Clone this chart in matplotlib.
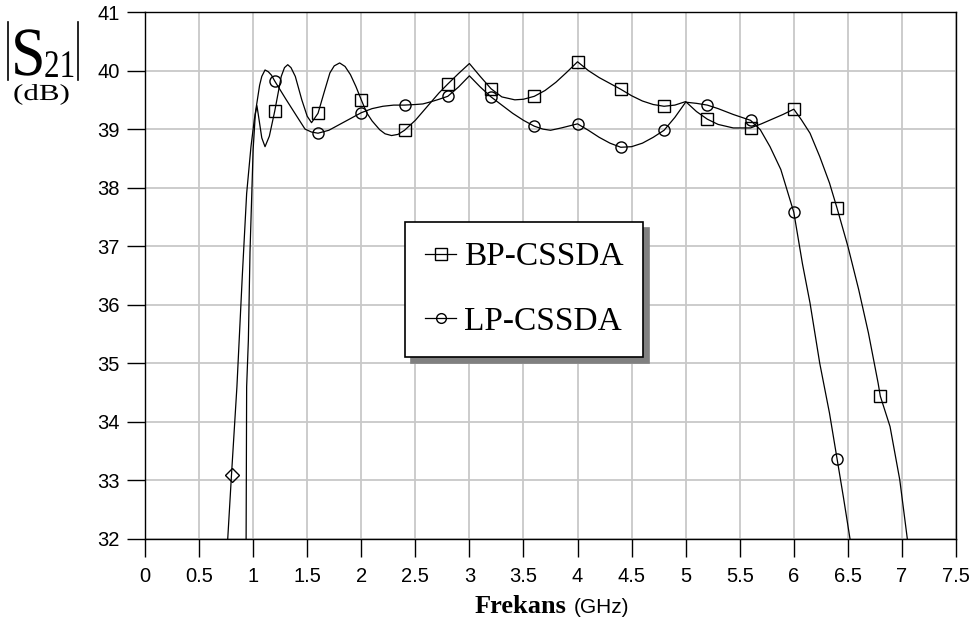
import matplotlib
matplotlib.use("Agg")
import matplotlib.pyplot as plt
from matplotlib.lines import Line2D
from matplotlib.textpath import TextPath
from matplotlib.patches import PathPatch
from matplotlib.font_manager import FontProperties
from matplotlib.transforms import Affine2D, IdentityTransform

# BP-CSSDA trace (GHz, dB)
bp_freq = [0.935, 0.94, 0.956, 0.971, 1.0, 1.02, 1.035, 1.05, 1.08, 1.11, 1.15, 1.2,
           1.26, 1.29, 1.32, 1.35, 1.39, 1.45, 1.5, 1.54, 1.6, 1.66, 1.71, 1.75, 1.8,
           1.85, 1.9, 1.95, 2.0, 2.05, 2.1, 2.17, 2.22, 2.28, 2.34, 2.4, 2.5, 2.64,
           2.72, 2.8, 2.9, 3.0, 3.1, 3.2, 3.3, 3.42, 3.5, 3.6, 3.7, 3.8, 3.9, 4.0,
           4.1, 4.2, 4.3, 4.4, 4.5, 4.6, 4.7, 4.8, 4.9, 5.0, 5.1, 5.2, 5.3, 5.44,
           5.6, 5.7, 5.8, 5.9, 6.0, 6.07, 6.15, 6.24, 6.33, 6.4, 6.5, 6.6, 6.69,
           6.78, 6.8, 6.89, 6.98, 7.05]
bp_db = [32.0, 34.6, 35.4, 36.9, 38.65, 39.25, 39.4, 39.22, 38.85, 38.7, 38.88, 39.31,
         39.9, 40.05, 40.1, 40.05, 39.9, 39.5, 39.22, 39.11, 39.27, 39.65, 39.96, 40.08, 40.13,
         40.07, 39.93, 39.73, 39.5, 39.28, 39.14, 38.99, 38.92, 38.89, 38.91, 38.98, 39.15, 39.45,
         39.62, 39.77, 39.95, 40.12, 39.9, 39.69, 39.55, 39.5, 39.51, 39.56, 39.66, 39.8, 39.97, 40.15,
         40.0, 39.88, 39.78, 39.68, 39.57, 39.48, 39.42, 39.39, 39.41, 39.47, 39.3, 39.17, 39.08, 39.02,
         39.02, 39.09, 39.17, 39.25, 39.34, 39.16, 38.93, 38.53, 38.08, 37.65, 37.0, 36.26, 35.52,
         34.66, 34.44, 33.92, 33.01, 32.0]

# LP-CSSDA trace
lp_freq = [0.765, 0.8, 0.85, 0.9, 0.94, 0.98, 1.01, 1.035, 1.06, 1.08, 1.11, 1.14, 1.17,
           1.2, 1.3, 1.4, 1.48, 1.54, 1.6, 1.7, 1.8, 1.9, 2.0, 2.1, 2.2, 2.3, 2.4, 2.5,
           2.57, 2.65, 2.72, 2.8, 2.9, 3.0, 3.1, 3.2, 3.3, 3.4, 3.5, 3.6, 3.68, 3.75,
           3.85, 4.0, 4.1, 4.2, 4.3, 4.4, 4.5, 4.6, 4.7, 4.8, 4.9, 5.0, 5.1, 5.2, 5.3,
           5.44, 5.6, 5.69, 5.78, 5.88, 6.0, 6.08, 6.15, 6.24, 6.33, 6.4, 6.46, 6.52]
lp_db = [32.0, 33.1, 34.6, 36.5, 37.9, 38.7, 39.15, 39.45, 39.75, 39.9, 40.01, 39.98, 39.92,
         39.82, 39.52, 39.23, 39.0, 38.95, 38.93, 38.98, 39.08, 39.18, 39.28, 39.35, 39.39, 39.41, 39.41, 39.42,
         39.43, 39.47, 39.51, 39.56, 39.72, 39.91, 39.72, 39.55, 39.41, 39.27, 39.15, 39.05, 39.0, 38.98,
         39.02, 39.09, 38.98, 38.86, 38.76, 38.69, 38.7, 38.76, 38.86, 38.98, 39.2, 39.46, 39.44, 39.41, 39.35,
         39.25, 39.15, 38.99, 38.7, 38.31, 37.58, 36.7, 36.03, 35.0, 34.15, 33.37, 32.7, 32.0]

# marker positions
bp_mark_freq = [1.2, 1.6, 2.0, 2.4, 2.8, 3.2, 3.6, 4.0, 4.4, 4.8, 5.2, 5.6, 6.0, 6.4, 6.8]
bp_mark_db = [39.31, 39.27, 39.5, 38.98, 39.77, 39.69, 39.56, 40.15, 39.68, 39.39, 39.17, 39.02, 39.34, 37.65, 34.44]
lp_mark_freq = [1.2, 1.6, 2.0, 2.4, 2.8, 3.2, 3.6, 4.0, 4.4, 4.8, 5.2, 5.6, 6.0, 6.4]
lp_mark_db = [39.82, 38.93, 39.28, 39.41, 39.56, 39.55, 39.05, 39.09, 38.69, 38.98, 39.41, 39.15, 37.58, 33.37]
lp_diamond_freq = [0.8]
lp_diamond_db = [33.1]

x_ticks = [0, 0.5, 1, 1.5, 2, 2.5, 3, 3.5, 4, 4.5, 5, 5.5, 6, 6.5, 7, 7.5]
x_ticklabels = ["0", "0.5", "1", "1.5", "2", "2.5", "3", "3.5", "4", "4.5", "5", "5.5", "6", "6.5", "7", "7.5"]
y_ticks = [32, 33, 34, 35, 36, 37, 38, 39, 40, 41]

W, H = 974, 626
fig = plt.figure(figsize=(W / 100, H / 100), dpi=100)
ax = fig.add_axes([145 / W, 1 - 539 / H, 811 / W, 527 / H])

line_kw = dict(color="black", lw=0.9)
mark_kw = dict(ls="none", color="black", mfc="none", mew=1.0)

ax.plot(bp_freq, bp_db, **line_kw)
ax.plot(lp_freq, lp_db, **line_kw)
ax.plot(bp_mark_freq, bp_mark_db, marker="s", ms=9, **mark_kw)
ax.plot(lp_mark_freq, lp_mark_db, marker="o", ms=8, **mark_kw)
ax.plot(lp_diamond_freq, lp_diamond_db, marker="D", ms=7.5, **mark_kw)

ax.set_xlim(0, 7.5)
ax.set_ylim(32, 41)
ax.set_xticks(x_ticks)
ax.set_xticklabels(x_ticklabels)
ax.set_yticks(y_ticks)
ax.grid(True, color="#c8c8c8", lw=1.3)
ax.set_axisbelow(True)
for s in ax.spines.values():
    s.set_color("black")
    s.set_linewidth(1.0)
ax.tick_params(direction="out", length=13, width=1.0, labelsize=14.5, pad=5,
               labelfontfamily="Liberation Sans")
ax.tick_params(axis="x", pad=7)

handles = [Line2D([], [], color="black", lw=0.9, marker="s", ms=8, mfc="none"),
           Line2D([], [], color="black", lw=0.9, marker="o", ms=7, mfc="none")]
leg = ax.legend(handles, ["BP-CSSDA", "LP-CSSDA"], loc="upper left",
                bbox_to_anchor=(0.3206, 0.6015), borderaxespad=0,
                prop=FontProperties(family="Liberation Serif", size=24),
                handlelength=0.95, handletextpad=0.22, labelspacing=1.03,
                borderpad=0.59, fancybox=False, framealpha=1,
                shadow={"ox": 4.3, "oy": -4.3, "color": "0.5", "alpha": 1.0})
leg.get_frame().set_edgecolor("black")
leg.get_frame().set_linewidth(1.2)


def squeezed(s, x, y, size, sx, family="Liberation Serif"):
    # text drawn as a path so it can be stretched horizontally (pixel coords)
    tp = TextPath((0, 0), s, size=size, prop=FontProperties(family=family))
    tr = Affine2D().scale(sx, 1.0).translate(x, y)
    fig.patches.append(PathPatch(tr.transform_path(tp), transform=IdentityTransform(),
                                 facecolor="black", edgecolor="none"))


# |S21| (dB) label at the top left
squeezed("S", 11, H - 75, 69, 0.9)
squeezed("21", 44, H - 77, 39, 0.8)
squeezed("(dB)", 13, H - 100, 23, 1.35)
for bx in (8, 78):
    fig.add_artist(Line2D([bx / W, bx / W], [1 - 22 / H, 1 - 80 / H], color="black", lw=1.2))

fig.text(475 / W, 13 / H, "Frekans", fontsize=19, family="Liberation Serif",
         weight="bold", va="baseline", ha="left")
fig.text(574 / W, 13 / H, "(GHz)", fontsize=15, family="Liberation Sans",
         va="baseline", ha="left")

fig.savefig("out.png", dpi=100)
